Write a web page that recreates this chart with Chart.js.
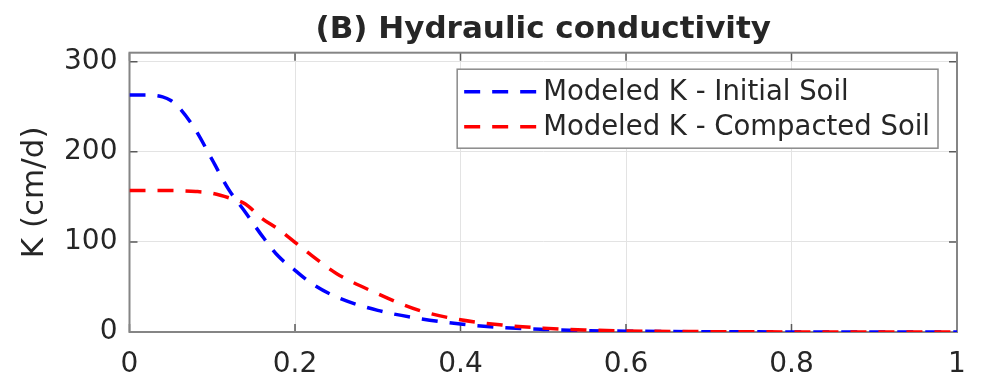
<!DOCTYPE html>
<html>
<head>
<meta charset="utf-8">
<script src="https://cdn.jsdelivr.net/npm/chart.js@4.4.1/dist/chart.umd.min.js"></script>
<style>
  html, body { margin: 0; padding: 0; background: #fff; }
  .chart-container { width: 986px; height: 382px; }
</style>
</head>
<body>
<div class="chart-container"><canvas id="chart"></canvas></div>
<script>
// x values (relative position / depth)
const xVals = [0, 0.02, 0.04, 0.05, 0.06, 0.08, 0.1, 0.12, 0.14, 0.16, 0.18, 0.2, 0.22, 0.25, 0.3, 0.35, 0.4, 0.45, 0.5, 0.55, 0.6, 0.7, 0.8, 0.9, 1]
// modeled K (cm/d)
const initialK = [263, 263, 261, 257, 249, 224, 191, 158, 133, 107, 84, 68.5, 54, 39, 24, 15, 8.8, 5, 2.9, 1.6, 0.9, 0.3, 0.1, 0.03, 0]
const compactedK = [157, 157, 157, 157, 156.8, 156, 154, 149, 142, 126, 114, 99.5, 85, 65, 42.5, 24, 13.5, 7.8, 4.3, 2.3, 1.2, 0.35, 0.1, 0.03, 0]
const xTicks = [0, 0.2, 0.4, 0.6, 0.8, 1]
const yTicks = [0, 100, 200, 300]
const seriesLabels = ['Modeled K - Initial Soil', 'Modeled K - Compacted Soil']
const titleText = '(B) Hydraulic conductivity'

const FONT = 'DejaVu Sans'
const textColor = '#262626'

function toPoints(ys) {
    return xVals.map((x, i) => ({x: x, y: ys[i]}))
}

// draws the matlab style box with the inner tick marks
const boxPlugin = {
    id: 'box',
    beforeDatasetsDraw(chart) {
        const {ctx, chartArea: a, scales} = chart
        ctx.save()
        ctx.strokeStyle = '#5a5a5a'
        ctx.lineWidth = 1.5
        xTicks.forEach(v => {
            const px = scales.x.getPixelForValue(v)
            ctx.beginPath()
            ctx.moveTo(px, a.bottom); ctx.lineTo(px, a.bottom - 8)
            ctx.moveTo(px, a.top); ctx.lineTo(px, a.top + 8)
            ctx.stroke()
        })
        yTicks.forEach(v => {
            const py = scales.y.getPixelForValue(v)
            ctx.beginPath()
            ctx.moveTo(a.left, py); ctx.lineTo(a.left + 8, py)
            ctx.moveTo(a.right, py); ctx.lineTo(a.right - 8, py)
            ctx.stroke()
        })
        ctx.strokeStyle = '#858585'
        ctx.lineWidth = 2
        ctx.strokeRect(a.left, a.top, a.right - a.left, a.bottom - a.top)
        ctx.restore()
    },
    // title is centred over the axes, not over the whole canvas
    afterDraw(chart) {
        const {ctx, chartArea: a} = chart
        ctx.save()
        ctx.font = 'bold 31px "' + FONT + '"'
        ctx.fillStyle = textColor
        ctx.textAlign = 'center'
        ctx.textBaseline = 'alphabetic'
        ctx.fillText(titleText, (a.left + a.right) / 2, 37.5)
        ctx.restore()
    }
}

// legend box in the upper right corner of the plot
const legendPlugin = {
    id: 'boxLegend',
    afterDraw(chart) {
        const {ctx, chartArea: a} = chart
        const ds = chart.data.datasets
        ctx.save()
        ctx.font = '27.5px "' + FONT + '"'
        const textW = Math.max(...ds.map(d => ctx.measureText(d.label).width))
        const lineLen = 74
        const w = 7 + lineLen + 5 + textW + 8
        const h = 79
        const right = a.right - 19
        const top = a.top + 16.5
        const left = right - w
        ctx.fillStyle = '#fff'
        ctx.fillRect(left, top, w, h)
        ctx.strokeStyle = '#8a8a8a'
        ctx.lineWidth = 1.5
        ctx.strokeRect(left, top, w, h)
        ds.forEach((d, i) => {
            const y = top + 22.5 + i * 35
            ctx.beginPath()
            ctx.setLineDash(d.borderDash)
            ctx.strokeStyle = d.borderColor
            ctx.lineWidth = d.borderWidth
            ctx.moveTo(left + 7, y)
            ctx.lineTo(left + 7 + lineLen, y)
            ctx.stroke()
            ctx.setLineDash([])
            ctx.fillStyle = textColor
            ctx.textBaseline = 'middle'
            ctx.fillText(d.label, left + 7 + lineLen + 5, y + 1)
        })
        ctx.restore()
    }
}

const data = {
    datasets: [
        {
            label: seriesLabels[0],
            data: toPoints(initialK),
            borderColor: '#0000ff',
            borderWidth: 3.5,
            borderDash: [16, 12],
            order: 1
        },
        {
            label: seriesLabels[1],
            data: toPoints(compactedK),
            borderColor: '#ff0000',
            borderWidth: 3.5,
            borderDash: [16, 12],
            order: 0
        }
    ]
}

const config = {
    type: 'line',
    data: data,
    plugins: [boxPlugin, legendPlugin],
    options: {
        responsive: true,
        maintainAspectRatio: false,
        animation: false,
        layout: {padding: {left: 0, right: 29, top: 52.7, bottom: 0}},
        elements: {
            point: {radius: 0},
            line: {cubicInterpolationMode: 'monotone', fill: false}
        },
        plugins: {
            legend: {display: false},
            tooltip: {enabled: false},
            title: {display: false}
        },
        scales: {
            x: {
                type: 'linear',
                min: 0,
                max: 1,
                afterBuildTicks: s => { s.ticks = xTicks.map(v => ({value: v})) },
                afterFit: s => { s.height = 50 },
                ticks: {
                    color: textColor,
                    font: {family: FONT, size: 28},
                    padding: 16,
                    maxRotation: 0,
                    callback: v => String(Number(v.toFixed(1)))
                },
                grid: {color: '#e3e3e3', lineWidth: 1, drawTicks: false},
                border: {display: false}
            },
            y: {
                min: 0,
                max: 310,
                afterBuildTicks: s => { s.ticks = yTicks.map(v => ({value: v})) },
                afterFit: s => { s.width = 129.5 },
                ticks: {
                    color: textColor,
                    font: {family: FONT, size: 28},
                    padding: 12
                },
                grid: {color: '#e3e3e3', lineWidth: 1, drawTicks: false},
                border: {display: false},
                title: {
                    display: true,
                    text: 'K (cm/d)',
                    color: textColor,
                    font: {family: FONT, size: 31},
                    padding: {top: 16, bottom: 0}
                }
            }
        }
    }
}

const myChart = new Chart(document.querySelector('#chart'), config)
</script>
</body>
</html>
